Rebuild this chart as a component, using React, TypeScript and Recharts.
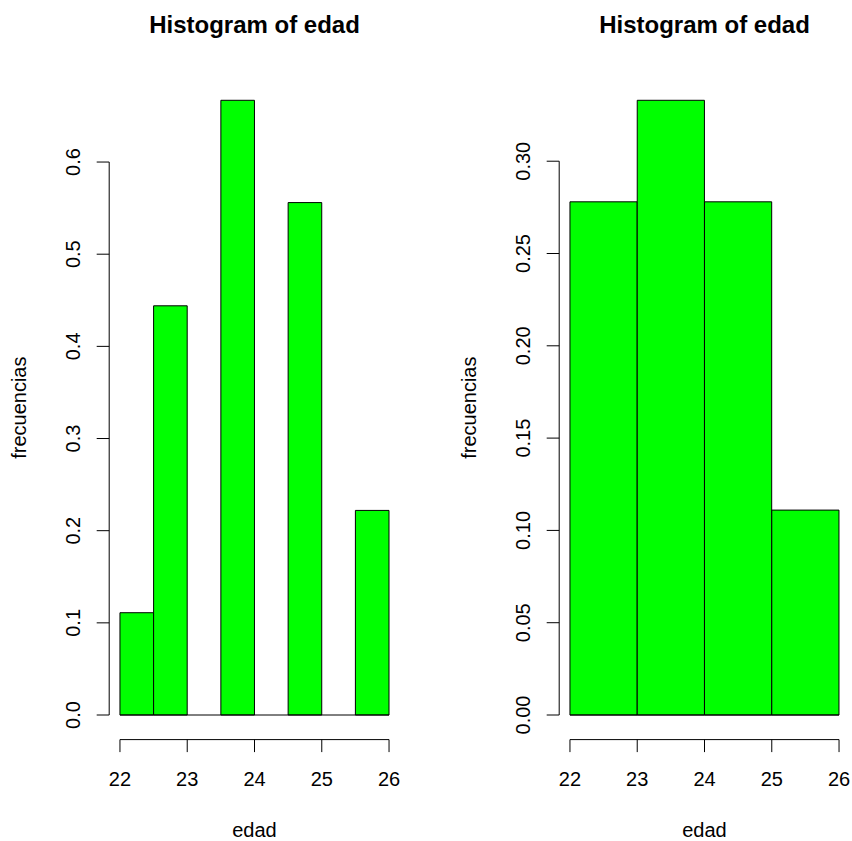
import { BarChart, Bar, XAxis, YAxis, ReferenceLine, Customized } from "recharts"

// histogram bins
const breaksFine = [22, 22.5, 23, 23.5, 24, 24.5, 25, 25.5, 26]
const densityFine = [0.111, 0.444, 0, 0.667, 0, 0.556, 0, 0.222]
const breaksCoarse = [22, 23, 24, 25, 26]
const densityCoarse = [0.278, 0.333, 0.278, 0.111]

const xTicks = [22, 23, 24, 25, 26]
const yTicksFine = [0, 0.1, 0.2, 0.3, 0.4, 0.5, 0.6]
const yTicksCoarse = [0, 0.05, 0.1, 0.15, 0.2, 0.25, 0.3]

const title = "Histogram of edad"
const xLabel = "edad"
const yLabel = "frecuencias"

const FONT = "'Liberation Sans', Arial, Helvetica, sans-serif"
const CHART_W = 426
const CHART_H = 841
const TOP = 75.7
const BOTTOM = 101.4
const TICK = 12.5

const XTick = (props: any) => {
  const { x, y, payload } = props
  return (
    <text x={x} y={y + 14.2} textAnchor="middle" fontSize={20} fontFamily={FONT} fill="#000">
      {payload.value}
    </text>
  )
}

const makeYTick = (decimals: number) => (props: any) => {
  const { x, y, payload } = props
  return (
    <text
      x={x}
      y={y}
      transform={`rotate(-90 ${x} ${y})`}
      textAnchor="middle"
      fontSize={20}
      fontFamily={FONT}
      fill="#000"
    >
      {Number(payload.value).toFixed(decimals)}
    </text>
  )
}

interface HistProps {
  breaks: number[]
  density: number[]
  yTicks: number[]
  decimals: number
  left: number
  axisWidth: number
  marginRight: number
}

function Histogram({ breaks, density, yTicks, decimals, left, axisWidth, marginRight }: HistProps) {
  const data = density.map((d, i) => ({ mid: (breaks[i] + breaks[i + 1]) / 2, density: d }))
  const xMin = breaks[0]
  const xMax = breaks[breaks.length - 1]
  const xExt = (xMax - xMin) * 0.04
  const xDomain = [xMin - xExt, xMax + xExt]
  const yMax = Math.max(...density)
  const yExt = yMax * 0.04
  const yDomain = [-yExt, yMax + yExt]

  const plotW = CHART_W - axisWidth - marginRight
  const plotH = CHART_H - TOP - BOTTOM
  const binPx = (plotW * (breaks[1] - breaks[0])) / (xDomain[1] - xDomain[0])
  const cx = axisWidth + plotW / 2
  const cy = TOP + plotH / 2
  const yLabX = axisWidth - 83.5

  return (
    <div style={{ position: "absolute", left, top: 0 }}>
      <BarChart
        width={CHART_W}
        height={CHART_H}
        data={data}
        margin={{ top: TOP, right: marginRight, bottom: 0, left: 0 }}
        barCategoryGap={0}
        barGap={0}
      >
        <XAxis
          dataKey="mid"
          type="number"
          domain={xDomain}
          ticks={xTicks}
          allowDataOverflow
          interval={0}
          height={BOTTOM}
          axisLine={false}
          stroke="#000"
          tickSize={TICK}
          tickMargin={19.7}
          tick={<XTick />}
        />
        <YAxis
          type="number"
          domain={yDomain}
          ticks={yTicks}
          allowDataOverflow
          interval={0}
          width={axisWidth}
          axisLine={false}
          stroke="#000"
          tickSize={TICK}
          tickMargin={17}
          tick={makeYTick(decimals)}
        />
        <Bar
          dataKey="density"
          fill="#00ff00"
          stroke="#000"
          strokeWidth={1}
          barSize={binPx * 0.999}
          isAnimationActive={false}
        />
        <ReferenceLine
          segment={[{ x: xMin, y: 0 }, { x: xMax, y: 0 }]}
          stroke="#000"
          ifOverflow="visible"
        />
        <ReferenceLine
          segment={[{ x: xDomain[0], y: yTicks[0] }, { x: xDomain[0], y: yTicks[yTicks.length - 1] }]}
          stroke="#000"
          ifOverflow="visible"
        />
        <ReferenceLine
          segment={[{ x: xTicks[0], y: yDomain[0] }, { x: xTicks[xTicks.length - 1], y: yDomain[0] }]}
          stroke="#000"
          ifOverflow="visible"
        />
        <Customized
          component={() => (
            <g fontFamily={FONT} fill="#000">
              <text x={cx} y={33} textAnchor="middle" fontSize={24} fontWeight="bold">
                {title}
              </text>
              <text x={cx} y={836.7} textAnchor="middle" fontSize={20}>
                {xLabel}
              </text>
              <text
                x={yLabX}
                y={cy}
                transform={`rotate(-90 ${yLabX} ${cy})`}
                textAnchor="middle"
                fontSize={20}
              >
                {yLabel}
              </text>
            </g>
          )}
        />
      </BarChart>
    </div>
  )
}

export default function App() {
  return (
    <div style={{ position: "absolute", left: 0, top: 0, width: 852, height: 841, background: "#fff" }}>
      <Histogram
        breaks={breaksFine}
        density={densityFine}
        yTicks={yTicksFine}
        decimals={1}
        left={0}
        axisWidth={109.2}
        marginRight={26.2}
      />
      <Histogram
        breaks={breaksCoarse}
        density={densityCoarse}
        yTicks={yTicksCoarse}
        decimals={2}
        left={426}
        axisWidth={133.2}
        marginRight={2.2}
      />
    </div>
  )
}
